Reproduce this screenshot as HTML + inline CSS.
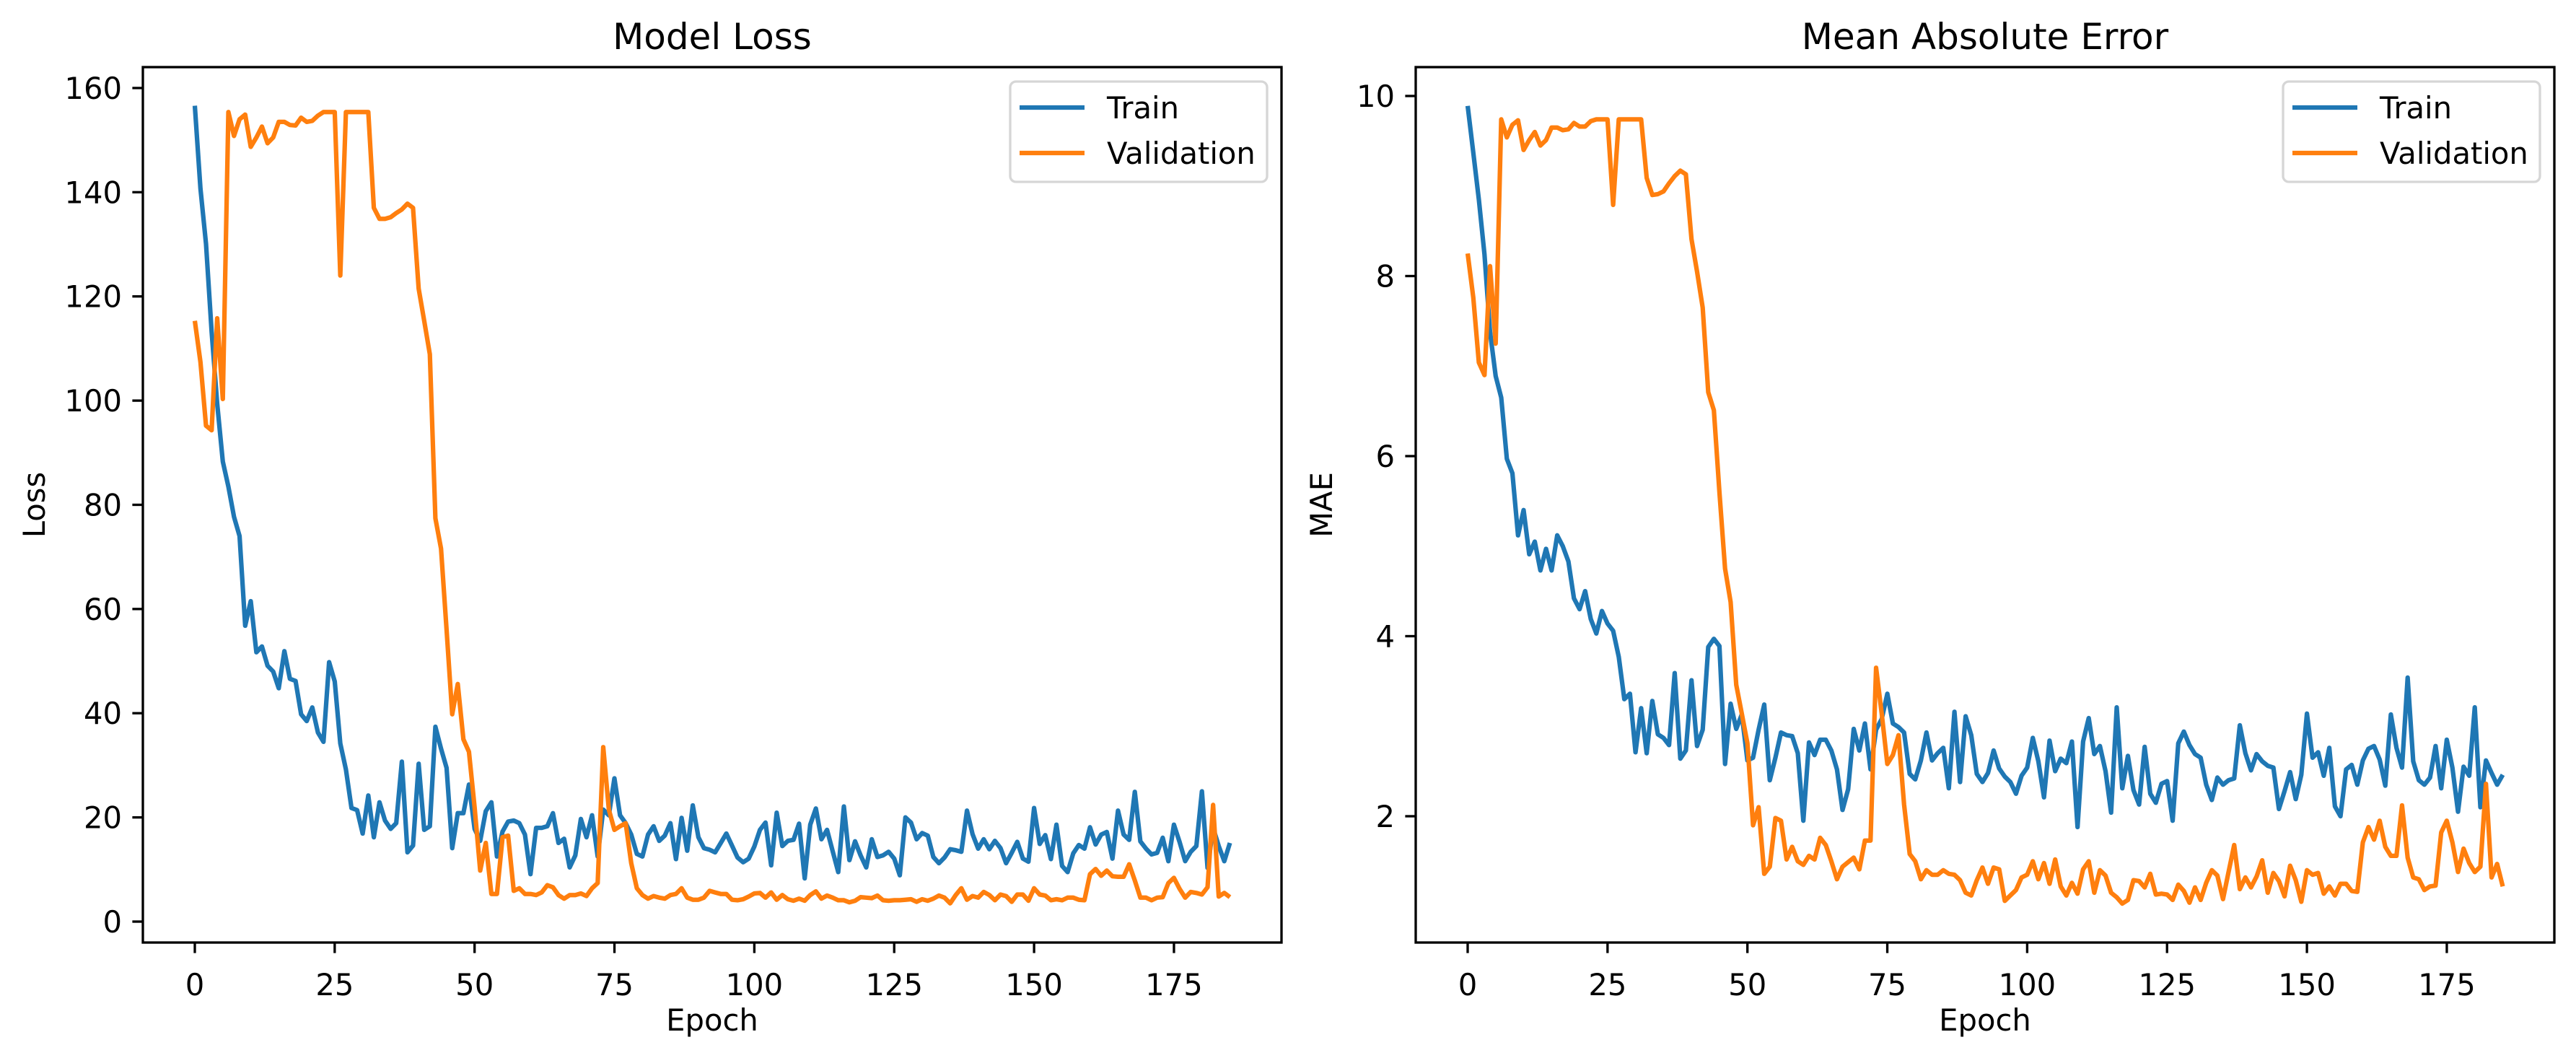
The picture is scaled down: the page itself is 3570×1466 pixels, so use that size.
<!DOCTYPE html>
<html>
<head>
<meta charset="utf-8">
<style>
html,body{margin:0;padding:0;background:#fff;}
svg{display:block;font-family:"DejaVu Sans","Liberation Sans",sans-serif;}
</style>
</head>
<body>
<svg id="fig" width="3570" height="1466" viewBox="0 0 3570 1466" xmlns="http://www.w3.org/2000/svg">
<rect width="3570" height="1466" fill="#fff"/>
</svg>
<script>
const lossTrain = [156.6,140.7,130.1,113.2,99.4,88.3,83.5,77.7,74.0,56.8,61.5,51.7,52.8,49.1,48.0,44.8,51.9,46.6,46.2,39.8,38.5,41.1,36.3,34.5,49.8,46.1,34.2,29.2,21.8,21.4,16.9,24.2,16.2,22.9,19.4,17.8,18.9,30.7,13.3,14.6,30.3,17.6,18.3,37.4,33.2,29.5,14.1,20.8,20.8,26.3,17.8,15.5,21.2,22.9,12.5,17.3,19.2,19.4,18.9,16.7,9.1,18.0,18.0,18.3,20.8,15.1,15.9,10.4,12.7,19.7,16.2,20.4,12.5,21.5,20.4,27.5,20.4,18.9,16.7,13.0,12.5,16.7,18.3,15.5,16.5,18.9,12.0,19.9,13.6,22.3,16.2,14.1,13.8,13.3,15.1,16.9,14.6,
12.3,11.4,12.1,14.4,17.6,19.0,10.8,20.9,14.5,15.5,15.7,18.8,8.3,18.6,21.7,15.8,17.6,13.5,9.5,22.1,11.8,15.4,12.7,10.4,15.8,12.4,12.7,13.4,12.1,8.9,20.0,19.0,15.8,17.0,16.5,12.4,11.2,12.3,13.9,13.7,13.4,21.3,16.8,14.0,15.8,13.9,15.5,14.1,11.2,13.2,15.3,12.1,11.5,21.8,14.9,16.6,12.0,18.6,10.7,9.5,13.1,14.7,14.0,18.1,14.8,16.7,17.2,12.1,21.3,16.7,15.7,24.9,15.4,14.0,12.9,13.2,16.1,11.6,18.6,15.3,11.6,13.4,14.5,25.0,10.3,18.0,14.5,11.6,15.1];
const lossVal = [115.3,107.4,95.2,94.3,115.8,100.3,155.4,150.8,154.0,154.9,148.7,150.5,152.6,149.4,150.5,153.5,153.5,152.9,152.8,154.3,153.5,153.7,154.7,155.4,155.4,155.4,124.0,155.4,155.4,155.4,155.4,155.4,137.0,134.9,134.9,135.2,136.0,136.7,137.8,137.0,121.5,115.3,108.9,77.4,71.6,56.0,39.8,45.6,35.0,32.6,22.0,
9.8,15.1,5.3,5.3,16.2,16.5,5.9,6.4,5.3,5.3,5.1,5.6,7.0,6.6,5.1,4.4,5.1,5.1,5.4,4.9,6.4,7.4,33.5,21.5,17.6,18.3,18.9,11.2,6.4,5.1,4.4,4.9,4.6,4.4,5.1,5.3,6.4,4.6,4.2,4.2,4.6,5.9,5.6,5.3,5.3,4.2,
4.1,4.3,4.8,5.4,5.5,4.6,5.6,4.2,5.1,4.3,4.0,4.4,4.0,5.1,5.8,4.4,5.0,4.6,4.1,4.1,3.7,4.0,4.7,4.6,4.5,5.0,4.1,4.0,4.1,4.1,4.2,4.3,3.8,4.3,4.0,4.4,5.0,4.6,3.5,5.1,6.4,4.2,4.9,4.6,5.7,5.1,4.1,5.2,4.9,3.8,5.2,5.2,4.0,6.4,5.2,5.0,4.1,4.3,4.1,4.6,4.6,4.2,4.1,9.1,10.1,8.8,9.8,8.7,8.6,8.6,11.0,7.9,4.6,4.6,4.1,4.6,4.7,7.4,8.4,6.3,4.6,5.7,5.5,5.2,6.6,22.4,4.8,5.5,4.7];
const maeTrain = [9.89,9.37,8.85,8.24,7.38,6.89,6.65,5.97,5.81,5.12,5.40,4.91,5.05,4.73,4.97,4.73,5.12,5.00,4.83,4.42,4.30,4.50,4.19,4.03,4.28,4.14,4.06,3.77,3.30,3.36,2.71,3.20,2.70,3.28,2.91,2.87,2.79,3.59,2.64,2.73,3.51,2.78,2.96,3.88,3.97,3.89,2.58,3.25,2.97,3.13,2.62,2.65,2.96,3.24,2.40,2.65,2.93,2.90,2.89,2.70,1.95,2.82,2.68,2.85,2.85,2.73,2.52,2.07,2.30,2.97,2.73,3.03,2.52,2.96,3.08,3.36,3.03,2.99,2.93,2.47,2.41,2.62,2.93,2.62,2.70,2.76,2.31,3.16,2.38,3.11,2.90,2.47,2.38,2.48,2.73,2.53,2.44,
2.38,2.25,2.45,2.54,2.87,2.61,2.21,2.84,2.50,2.64,2.59,2.83,1.88,2.83,3.09,2.69,2.78,2.50,2.04,3.21,2.31,2.67,2.29,2.13,2.77,2.25,2.15,2.36,2.39,1.95,2.81,2.94,2.79,2.69,2.65,2.35,2.18,2.43,2.35,2.40,2.42,3.01,2.70,2.51,2.69,2.61,2.56,2.54,2.08,2.28,2.49,2.19,2.46,3.14,2.65,2.71,2.45,2.76,2.11,2.00,2.52,2.57,2.35,2.62,2.75,2.78,2.63,2.34,3.13,2.76,2.54,3.54,2.61,2.40,2.35,2.43,2.78,2.31,2.85,2.54,2.05,2.55,2.45,3.21,2.10,2.62,2.48,2.35,2.46];
const maeVal = [8.25,7.76,7.04,6.90,8.11,7.25,9.74,9.54,9.68,9.73,9.40,9.51,9.60,9.45,9.51,9.65,9.65,9.62,9.63,9.70,9.66,9.66,9.72,9.74,9.74,9.74,8.79,9.74,9.74,9.74,9.74,9.74,9.09,8.90,8.91,8.94,9.03,9.11,9.17,9.13,8.41,8.05,7.65,6.71,6.51,5.60,4.75,4.38,3.46,3.14,2.81,1.90,2.10,1.36,1.44,1.98,1.95,1.52,1.66,1.50,1.46,1.56,1.52,1.76,1.68,1.50,1.30,1.44,1.49,1.54,1.41,1.73,1.73,3.65,3.14,2.58,2.68,2.90,2.13,1.58,1.50,1.30,1.40,1.35,1.35,1.40,1.36,1.35,1.29,1.15,1.12,1.29,1.43,1.25,1.43,1.41,1.06,
1.12,1.18,1.32,1.35,1.50,1.30,1.48,1.25,1.52,1.22,1.12,1.26,1.14,1.41,1.50,1.15,1.40,1.34,1.15,1.10,1.03,1.07,1.29,1.28,1.21,1.36,1.13,1.14,1.13,1.07,1.24,1.17,1.04,1.21,1.07,1.26,1.40,1.34,1.08,1.38,1.68,1.19,1.32,1.21,1.33,1.51,1.15,1.37,1.28,1.11,1.45,1.29,1.05,1.40,1.35,1.37,1.14,1.22,1.12,1.25,1.25,1.17,1.16,1.71,1.88,1.74,1.95,1.66,1.56,1.56,2.12,1.54,1.32,1.30,1.18,1.22,1.23,1.82,1.95,1.71,1.38,1.64,1.48,1.38,1.44,2.36,1.32,1.47,1.22];
const xTicks = [0,25,50,75,100,125,150,175];
const lossTicks = [0,20,40,60,80,100,120,140,160];
const maeTicks = [2,4,6,8,10];
const seriesNames = ["Train","Validation"];

const NS = "http://www.w3.org/2000/svg";
const svg = document.getElementById("fig");
function mk(tag, attrs, parent){
  const e = document.createElementNS(NS, tag);
  for (const k in attrs) e.setAttribute(k, attrs[k]);
  (parent||svg).appendChild(e);
  return e;
}
const COLORS = ["#1f77b4","#ff7f0e"];

function drawPanel(cfg){
  const L = cfg.left, R = cfg.left + 1578, T = 93, B = 1306;
  const g = mk("g", {});
  
  
  const xs = e => L + 72 + e * 7.754;
  const ys = v => cfg.y0 - (v - cfg.v0) * cfg.ppu;
  // series
  [cfg.train, cfg.val].forEach((arr, si) => {
    const pts = arr.map((v,i) => xs(i).toFixed(1) + "," + ys(v).toFixed(1)).join(" ");
    const pl = mk("polyline", {points: pts, fill: "none", stroke: COLORS[si], "stroke-width": 6.25, "stroke-linejoin": "round", "stroke-linecap": "butt"}, g);
    
    
  });
  // spines
  const fr = mk("rect", {x: L, y: T, width: R - L, height: B - T, fill: "none", stroke: "#000", "stroke-width": 3.33}, g);
  
  
  // x ticks
  xTicks.forEach(t => {
    const x = xs(t);
    mk("line", {x1: x, x2: x, y1: B, y2: B + 14.6, stroke: "#000", "stroke-width": 3.33}, g);
    const tx = mk("text", {x: x, y: B + 73, "font-size": 41.7, "text-anchor": "middle", fill: "#000"}, g);
    tx.textContent = t;
    
    
  });
  // y ticks
  cfg.ticks.forEach(t => {
    const y = ys(t);
    mk("line", {x1: L - 14.6, x2: L, y1: y, y2: y, stroke: "#000", "stroke-width": 3.33}, g);
    const tx = mk("text", {x: L - 29, y: y + 15, "font-size": 41.7, "text-anchor": "end", fill: "#000"}, g);
    tx.textContent = t;
    
    
  });
  // title
  const ti = mk("text", {x: (L + R) / 2, y: 68, "font-size": 50, "text-anchor": "middle", fill: "#000"}, g);
  ti.textContent = cfg.title;
  
  
  // x label
  const xl = mk("text", {x: (L + R) / 2, y: 1428, "font-size": 41.7, "text-anchor": "middle", fill: "#000"}, g);
  xl.textContent = "Epoch";
  
  
  // y label
  const yc = (T + B) / 2;
  const yl = mk("text", {x: cfg.ylabX, y: yc, "font-size": 41.7, "text-anchor": "middle", fill: "#000", transform: "rotate(-90 " + cfg.ylabX + " " + yc + ")"}, g);
  yl.textContent = cfg.ylabel;
  
  
  // legend
  const lx = R - 376;
  const lg = mk("g", {}, g);
  
  
  mk("rect", {x: lx, y: 113, width: 356, height: 139, rx: 8, fill: "#fff", "fill-opacity": 0.8, stroke: "#d6d6d6", "stroke-width": 3.33}, lg);
  seriesNames.forEach((n, si) => {
    const yy = 149 + si * 63;
    const ln = mk("line", {x1: lx + 13, x2: lx + 103, y1: yy, y2: yy, stroke: COLORS[si], "stroke-width": 6.25}, lg);
    
    
    const t = mk("text", {x: lx + 134, y: yy + 15, "font-size": 41.7, fill: "#000"}, lg);
    t.textContent = n;
    
    
  });
}

drawPanel({name: "loss", left: 198, title: "Model Loss", ylabel: "Loss", ylabX: 62,
  train: lossTrain, val: lossVal, ticks: lossTicks, y0: 1277, v0: 0, ppu: 7.219});
drawPanel({name: "mae", left: 1962, title: "Mean Absolute Error", ylabel: "MAE", ylabX: 1846,
  train: maeTrain, val: maeVal, ticks: maeTicks, y0: 1131, v0: 2, ppu: 124.75});
</script>
</body>
</html>
